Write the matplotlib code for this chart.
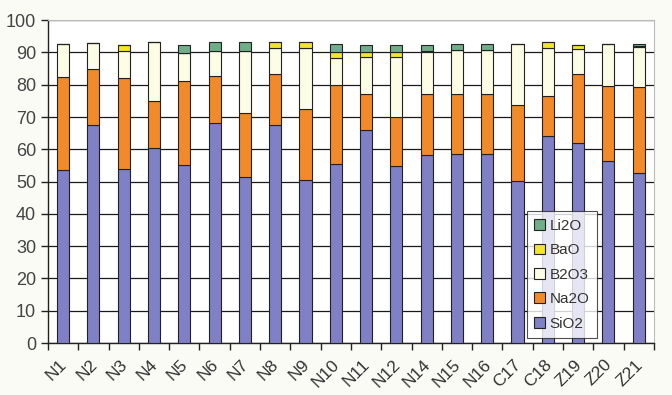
import numpy as np
import matplotlib
matplotlib.use("Agg")
import matplotlib.pyplot as plt
import matplotlib.transforms as mtransforms

samples = ["N1", "N2", "N3", "N4", "N5", "N6", "N7", "N8", "N9", "N10",
           "N11", "N12", "N14", "N15", "N16", "C17", "C18", "Z19", "Z20", "Z21"]

# cumulative tops, converted to component amounts below
sio2 = [53.6, 67.4, 54.0, 60.4, 55.0, 68.2, 51.4, 67.4, 50.4, 55.4,
        66.0, 54.8, 58.3, 58.5, 58.5, 50.2, 64.2, 62.0, 56.4, 52.8]
na2o_top = [82.4, 85.0, 82.0, 75.0, 81.2, 82.6, 71.2, 83.4, 72.4, 80.0,
            77.1, 70.0, 77.2, 77.2, 77.2, 73.6, 76.4, 83.3, 79.5, 79.3]
b2o3_top = [92.5, 92.8, 90.5, 93.2, 89.9, 90.5, 90.5, 91.4, 91.4, 88.2,
            88.6, 88.6, 90.0, 90.6, 90.6, 92.7, 91.3, 91.0, 92.5, 91.6]
bao_top = [92.5, 92.8, 92.2, 93.2, 89.9, 90.5, 90.5, 93.1, 93.1, 90.2,
           90.0, 90.0, 90.3, 90.8, 90.8, 92.7, 93.1, 92.4, 92.5, 91.9]
li2o_top = [92.5, 92.8, 92.2, 93.2, 92.4, 93.1, 93.1, 93.1, 93.1, 92.6,
            92.4, 92.4, 92.4, 92.6, 92.6, 92.7, 93.1, 92.4, 92.5, 92.6]

sio2 = np.array(sio2)
na2o = np.array(na2o_top) - sio2
b2o3 = np.array(b2o3_top) - np.array(na2o_top)
bao = np.array(bao_top) - np.array(b2o3_top)
li2o = np.array(li2o_top) - np.array(bao_top)

series = [("SiO2", sio2, "#7f80c6"),
          ("Na2O", na2o, "#f28a2a"),
          ("B2O3", b2o3, "#fdfde6"),
          ("BaO", bao, "#f2e52a"),
          ("Li2O", li2o, "#6fae86")]

plt.rcParams["font.family"] = ["Liberation Sans", "DejaVu Sans"]

fig = plt.figure(figsize=(6.72, 3.95), dpi=100, facecolor="#fbfbf6")
ax = fig.add_axes([0.0714, 0.1316, 0.9016, 0.8174])
ax.set_facecolor("white")

x = np.arange(len(samples))
bottom = np.zeros(len(samples))
bars = []
for name, vals, col in series:
    b = ax.bar(x, vals, width=0.4, bottom=bottom, color=col,
               edgecolor="#222222", linewidth=0.8, label=name, zorder=3)
    bars.append(b)
    bottom = bottom + vals

ax.set_xlim(-0.5, len(samples) - 0.5)
ax.set_ylim(0, 100)
ax.set_yticks(range(0, 101, 10))
ax.yaxis.grid(True, color="#1a1a1a", linewidth=0.9, zorder=0)
ax.set_axisbelow(True)

ax.set_xticks(x)
ax.set_xticklabels(samples, rotation=45, ha="right", rotation_mode="anchor",
                   fontsize=12.5, color="#333333")
ax.tick_params(axis="x", length=0, pad=10)
# nudge labels a little to the left, like the original
shift = mtransforms.ScaledTranslation(-4 / 100, 0, fig.dpi_scale_trans)
for lab in ax.get_xticklabels():
    lab.set_transform(lab.get_transform() + shift)
ax.set_xticks(np.arange(-0.5, len(samples)), minor=True)
ax.tick_params(axis="x", which="minor", length=5, color="#222222", width=1)
ax.tick_params(axis="y", length=5, color="#222222", width=1,
               labelsize=13, labelcolor="#444444")

for s in ["top", "right"]:
    ax.spines[s].set_color("#bbbbbb")
    ax.spines[s].set_linewidth(0.8)
for s in ["left", "bottom"]:
    ax.spines[s].set_color("#222222")
    ax.spines[s].set_linewidth(1.0)

handles = bars[::-1]
labels = [s[0] for s in series][::-1]
leg = ax.legend(handles, labels, loc="lower left", bbox_to_anchor=(0.79, 0.015),
                fontsize=11, frameon=True, fancybox=False, handlelength=0.7,
                handleheight=0.7, handletextpad=0.3, labelspacing=0.68,
                borderpad=0.5, borderaxespad=0)
leg.get_frame().set_edgecolor("#222222")
leg.get_frame().set_linewidth(0.8)
for t in leg.get_texts():
    t.set_color("#333333")

fig.savefig("out.png", dpi=100, facecolor=fig.get_facecolor())
